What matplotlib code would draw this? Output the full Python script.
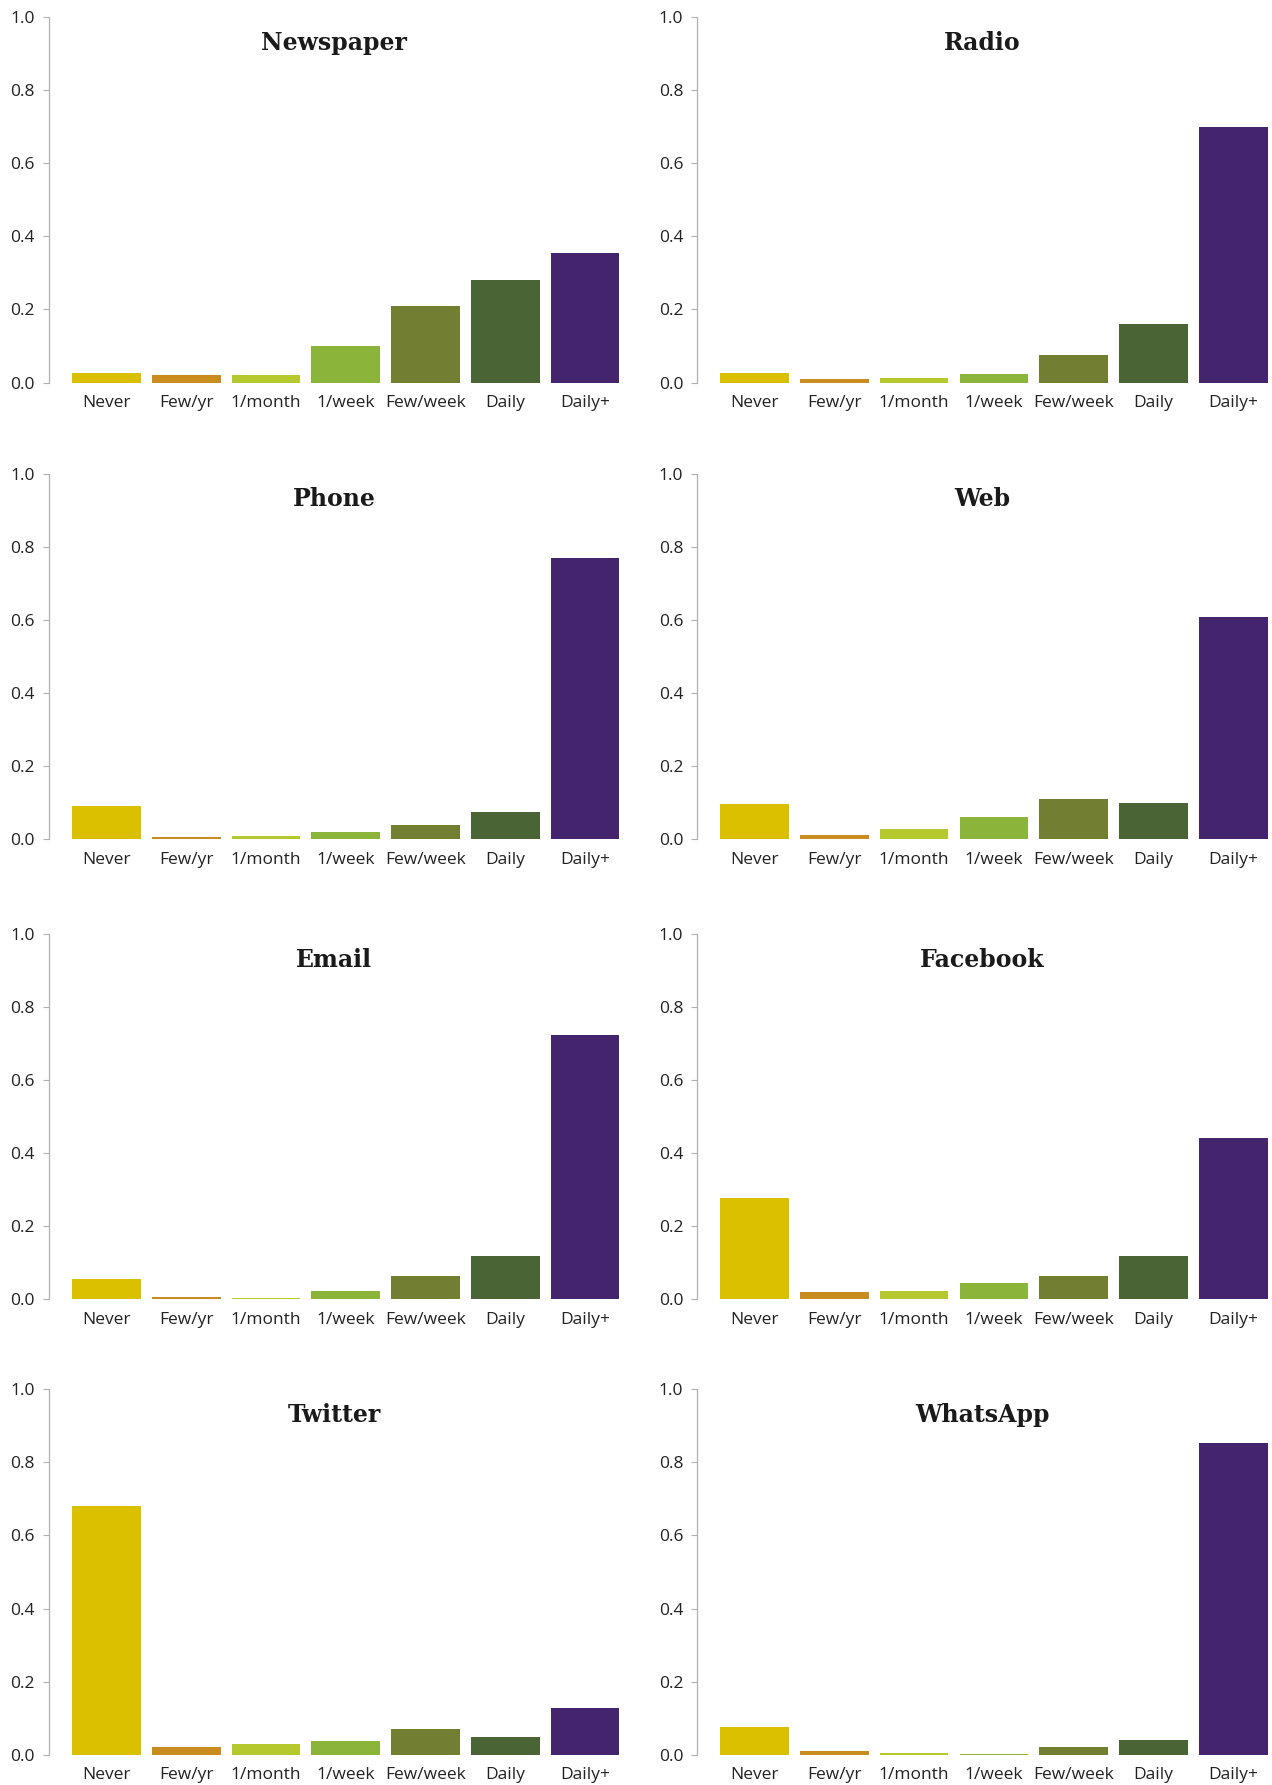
import numpy as np
import matplotlib
matplotlib.use('Agg')
import matplotlib.pyplot as plt

# frequency categories and their bar colours
categories = ['Never', 'Few/yr', '1/month', '1/week', 'Few/week', 'Daily', 'Daily+']
colors = ['#dbc000', '#c98c1e', '#b5c92e', '#8ab43a', '#727f33', '#4a6436', '#45246e']

# share of respondents per medium
newspaper = [0.025, 0.020, 0.020, 0.100, 0.210, 0.280, 0.355]
radio = [0.025, 0.010, 0.012, 0.023, 0.075, 0.160, 0.700]
phone = [0.090, 0.005, 0.010, 0.020, 0.040, 0.075, 0.770]
web = [0.097, 0.013, 0.027, 0.060, 0.110, 0.100, 0.607]
email = [0.055, 0.006, 0.004, 0.022, 0.065, 0.120, 0.724]
facebook = [0.278, 0.020, 0.022, 0.044, 0.065, 0.120, 0.442]
twitter = [0.680, 0.022, 0.030, 0.037, 0.070, 0.050, 0.127]
whatsapp = [0.077, 0.010, 0.005, 0.003, 0.022, 0.040, 0.853]

titles = ['Newspaper', 'Radio', 'Phone', 'Web', 'Email', 'Facebook', 'Twitter', 'WhatsApp']
series = [newspaper, radio, phone, web, email, facebook, twitter, whatsapp]

plt.rcParams['font.family'] = ['Open Sans', 'DejaVu Sans']

fig = plt.figure(figsize=(12.72, 17.85), dpi=100)

# panel placement (figure fractions)
col_left = [0.0385, 0.548]
row_bottom = [0.7857, 0.5298, 0.2720, 0.0169]
ax_w = 0.4485
ax_h = 0.2048

x = np.arange(len(categories))
for i, (title, vals) in enumerate(zip(titles, series)):
    r, c = divmod(i, 2)
    ax = fig.add_axes([col_left[c], row_bottom[r], ax_w, ax_h])
    ax.bar(x, vals, width=0.86, color=colors, linewidth=0)
    ax.set_xlim(-0.72, 6.43)
    ax.set_ylim(0, 1.0)
    ax.set_yticks([0.0, 0.2, 0.4, 0.6, 0.8, 1.0])
    ax.set_yticklabels(['0.0', '0.2', '0.4', '0.6', '0.8', '1.0'])
    ax.set_xticks(x)
    ax.set_xticklabels(categories)
    for s in ['top', 'right', 'bottom']:
        ax.spines[s].set_visible(False)
    ax.spines['left'].set_color('#b0b0b0')
    ax.spines['left'].set_linewidth(0.9)
    ax.tick_params(axis='y', length=4, width=0.8, color='#b0b0b0',
                   labelsize=12.5, labelcolor='#222222', pad=6)
    ax.tick_params(axis='x', length=0, labelsize=12.5, labelcolor='#222222', pad=9)
    ax.text(0.5, 0.93, title, transform=ax.transAxes, ha='center', va='center',
            fontsize=17, fontweight='bold', family=['DejaVu Serif'], color='#1a1a1a')

fig.savefig('out.png', dpi=100)
